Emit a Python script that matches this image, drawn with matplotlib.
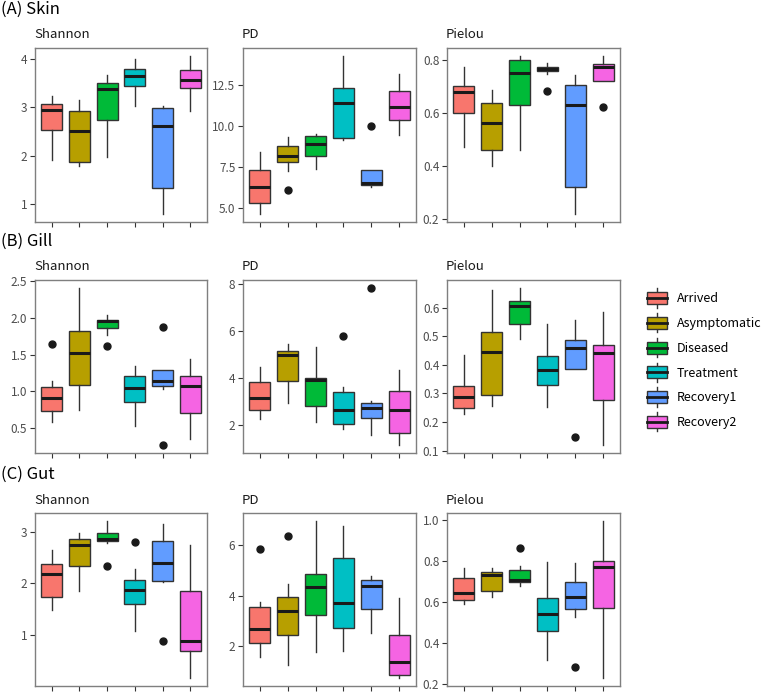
import matplotlib
matplotlib.use("Agg")
import matplotlib.pyplot as plt
from matplotlib.legend_handler import HandlerBase
from matplotlib.patches import Rectangle, Patch
from matplotlib.lines import Line2D

plt.rcParams['font.family'] = ['Noto Sans CJK KR', 'DejaVu Sans']

# ---------------------------------------------------------------- data
GROUPS = ["Arrived", "Asymptomatic", "Diseased", "Treatment", "Recovery1", "Recovery2"]
COLORS = ["#F8766D", "#B79F00", "#00BA38", "#00BFC4", "#619CFF", "#F564E3"]
TISSUES = ["(A) Skin", "(B) Gill", "(C) Gut"]
METRICS = ["Shannon", "PD", "Pielou"]

# box stats per group: [whislo, q1, median, q3, whishi]
SKIN_SHANNON = [[1.92, 2.54, 2.95, 3.07, 3.23], [1.80, 1.88, 2.52, 2.92, 3.16],
                [1.97, 2.73, 3.38, 3.50, 3.67], [3.02, 3.43, 3.65, 3.78, 3.99],
                [0.80, 1.34, 2.62, 2.98, 3.02], [2.93, 3.40, 3.56, 3.77, 4.06]]
SKIN_SHANNON_OUT = [[], [], [], [], [], []]
SKIN_PD = [[4.61, 5.29, 6.25, 7.34, 8.40], [7.28, 7.81, 8.18, 8.81, 9.32],
           [7.40, 8.18, 8.93, 9.39, 9.49], [9.12, 9.26, 11.43, 12.32, 14.30],
           [6.25, 6.37, 6.50, 7.30, 7.30], [9.43, 10.37, 11.19, 12.15, 13.20]]
SKIN_PD_OUT = [[], [6.09], [], [], [10.0], []]
SKIN_PIELOU = [[0.473, 0.601, 0.682, 0.704, 0.775], [0.401, 0.461, 0.564, 0.637, 0.689],
               [0.461, 0.629, 0.752, 0.800, 0.815], [0.749, 0.758, 0.766, 0.775, 0.790],
               [0.217, 0.320, 0.632, 0.707, 0.745], [0.720, 0.722, 0.775, 0.787, 0.817]]
SKIN_PIELOU_OUT = [[], [], [], [0.683], [], [0.622]]

GILL_SHANNON = [[0.582, 0.727, 0.909, 1.060, 1.136], [0.750, 1.086, 1.527, 1.820, 2.410],
                [1.770, 1.860, 1.955, 1.970, 2.036], [0.523, 0.850, 1.045, 1.214, 1.350],
                [1.032, 1.068, 1.140, 1.286, 1.286], [0.341, 0.700, 1.077, 1.214, 1.440]]
GILL_SHANNON_OUT = [[1.645], [], [1.614], [], [1.877, 0.264], []]
GILL_PD = [[2.27, 2.62, 3.15, 3.83, 4.46], [2.94, 3.89, 4.96, 5.14, 5.44],
           [2.14, 2.79, 3.93, 4.00, 5.30], [1.82, 2.06, 2.62, 3.39, 3.61],
           [1.56, 2.31, 2.72, 2.93, 3.01], [1.15, 1.65, 2.65, 3.45, 4.32]]
GILL_PD_OUT = [[], [], [], [5.79], [7.82], []]
GILL_PIELOU = [[0.228, 0.248, 0.288, 0.327, 0.434], [0.255, 0.296, 0.445, 0.514, 0.660],
               [0.490, 0.544, 0.606, 0.624, 0.669], [0.251, 0.328, 0.381, 0.429, 0.544],
               [0.384, 0.387, 0.457, 0.486, 0.557], [0.119, 0.277, 0.440, 0.470, 0.586]]
GILL_PIELOU_OUT = [[], [], [], [], [0.147], []]

GUT_SHANNON = [[1.48, 1.73, 2.17, 2.37, 2.64], [1.85, 2.34, 2.74, 2.85, 2.97],
               [2.79, 2.81, 2.86, 2.97, 3.21], [1.08, 1.60, 1.87, 2.07, 2.28],
               [2.03, 2.05, 2.40, 2.82, 3.14], [0.16, 0.68, 0.88, 1.85, 2.74]]
GUT_SHANNON_OUT = [[], [], [2.34], [2.80], [0.88], []]
GUT_PD = [[1.58, 2.12, 2.67, 3.55, 3.76], [1.28, 2.47, 3.39, 3.96, 4.46],
          [1.80, 3.22, 4.36, 4.87, 6.95], [1.83, 2.71, 3.72, 5.49, 6.74],
          [2.54, 3.46, 4.39, 4.61, 4.76], [0.75, 0.88, 1.37, 2.46, 3.91]]
GUT_PD_OUT = [[5.86], [6.34], [], [], [], []]
GUT_PIELOU = [[0.594, 0.614, 0.648, 0.720, 0.769], [0.627, 0.658, 0.733, 0.751, 0.770],
              [0.682, 0.700, 0.710, 0.759, 0.778], [0.319, 0.462, 0.542, 0.622, 0.798],
              [0.529, 0.568, 0.627, 0.699, 0.793], [0.231, 0.571, 0.774, 0.800, 0.998]]
GUT_PIELOU_OUT = [[], [], [0.868], [], [0.285], []]

YTICKS = {
    (0, 0): [1, 2, 3, 4], (0, 1): [5.0, 7.5, 10.0, 12.5], (0, 2): [0.2, 0.4, 0.6, 0.8],
    (1, 0): [0.5, 1.0, 1.5, 2.0, 2.5], (1, 1): [2, 4, 6, 8], (1, 2): [0.1, 0.2, 0.3, 0.4, 0.5, 0.6],
    (2, 0): [1, 2, 3], (2, 1): [2, 4, 6], (2, 2): [0.2, 0.4, 0.6, 0.8, 1.0],
}
PANELS = {
    (0, 0): (SKIN_SHANNON, SKIN_SHANNON_OUT), (0, 1): (SKIN_PD, SKIN_PD_OUT),
    (0, 2): (SKIN_PIELOU, SKIN_PIELOU_OUT),
    (1, 0): (GILL_SHANNON, GILL_SHANNON_OUT), (1, 1): (GILL_PD, GILL_PD_OUT),
    (1, 2): (GILL_PIELOU, GILL_PIELOU_OUT),
    (2, 0): (GUT_SHANNON, GUT_SHANNON_OUT), (2, 1): (GUT_PD, GUT_PD_OUT),
    (2, 2): (GUT_PIELOU, GUT_PIELOU_OUT),
}

# ---------------------------------------------------------------- layout (pixels)
W, H = 764, 692
COLS = [(35, 207), (243, 416), (447, 620)]
ROWS = [(48, 222), (280, 453), (513, 686)]
EDGE = "#333333"
MED = "#1a1a1a"
GREY = "#4D4D4D"

fig = plt.figure(figsize=(W / 100, H / 100), dpi=100)


def draw_panel(ax, stats, outs, ticks):
    data = [dict(whislo=s[0], q1=s[1], med=s[2], q3=s[3], whishi=s[4], fliers=o)
            for s, o in zip(stats, outs)]
    b = ax.bxp(data, positions=range(1, 7), widths=0.75, patch_artist=True, showcaps=False,
               boxprops=dict(edgecolor=EDGE, linewidth=1.0),
               medianprops=dict(color=MED, linewidth=2.2, solid_capstyle="butt"),
               whiskerprops=dict(color=EDGE, linewidth=1.0),
               flierprops=dict(marker="o", markerfacecolor=MED, markeredgecolor=MED, markersize=5))
    for p, c in zip(b["boxes"], COLORS):
        p.set_facecolor(c)
    vals = [v for s in stats for v in (s[0], s[4])] + [v for o in outs for v in o]
    lo, hi = min(vals), max(vals)
    pad = 0.05 * (hi - lo)
    ax.set_ylim(lo - pad, hi + pad)
    ax.set_xlim(0.4, 6.6)
    ax.set_yticks(ticks)
    ax.set_xticks(range(1, 7))
    ax.set_xticklabels([])
    for sp in ax.spines.values():
        sp.set_color("#7F7F7F")
        sp.set_linewidth(1.0)
    ax.tick_params(length=3.5, width=0.8, color=EDGE, labelcolor=GREY, labelsize=8.5, pad=2)


for r in range(3):
    y0, y1 = ROWS[r]
    fig.text(1 / W, 1 - (y0 - 39) / H, TISSUES[r], fontsize=12, va="center", ha="left")
    for c in range(3):
        x0, x1 = COLS[c]
        ax = fig.add_axes([x0 / W, 1 - y1 / H, (x1 - x0) / W, (y1 - y0) / H])
        stats, outs = PANELS[(r, c)]
        draw_panel(ax, stats, outs, YTICKS[(r, c)])
        fig.text((x0 - 1) / W, 1 - (y0 - 13) / H, METRICS[c], fontsize=9.5,
                 va="center", ha="left", color="#1a1a1a")


# ---------------------------------------------------------------- legend with boxplot keys
class BoxKey(HandlerBase):
    def create_artists(self, legend, orig, xd, yd, width, height, fontsize, trans):
        x0, y0 = -xd, -yd
        cx = x0 + width / 2
        wh = Line2D([cx, cx], [y0 - 0.3 * height, y0 + 1.3 * height], color=EDGE, lw=1,
                    transform=trans)
        box = Rectangle((x0, y0), width, height, facecolor=orig.get_facecolor(),
                        edgecolor=EDGE, lw=1, transform=trans)
        med = Line2D([x0, x0 + width], [y0 + height / 2] * 2, color=MED, lw=2, transform=trans)
        return [wh, box, med]


handles = [Patch(facecolor=c) for c in COLORS]
fig.legend(handles, GROUPS, loc="upper left", bbox_to_anchor=(647 / W, 1 - 292 / H),
           frameon=False, handler_map={Patch: BoxKey()}, fontsize=9,
           handlelength=1.6, handleheight=1.1, labelspacing=0.92, handletextpad=0.8,
           borderaxespad=0, borderpad=0)

fig.savefig("out.png", dpi=100)
